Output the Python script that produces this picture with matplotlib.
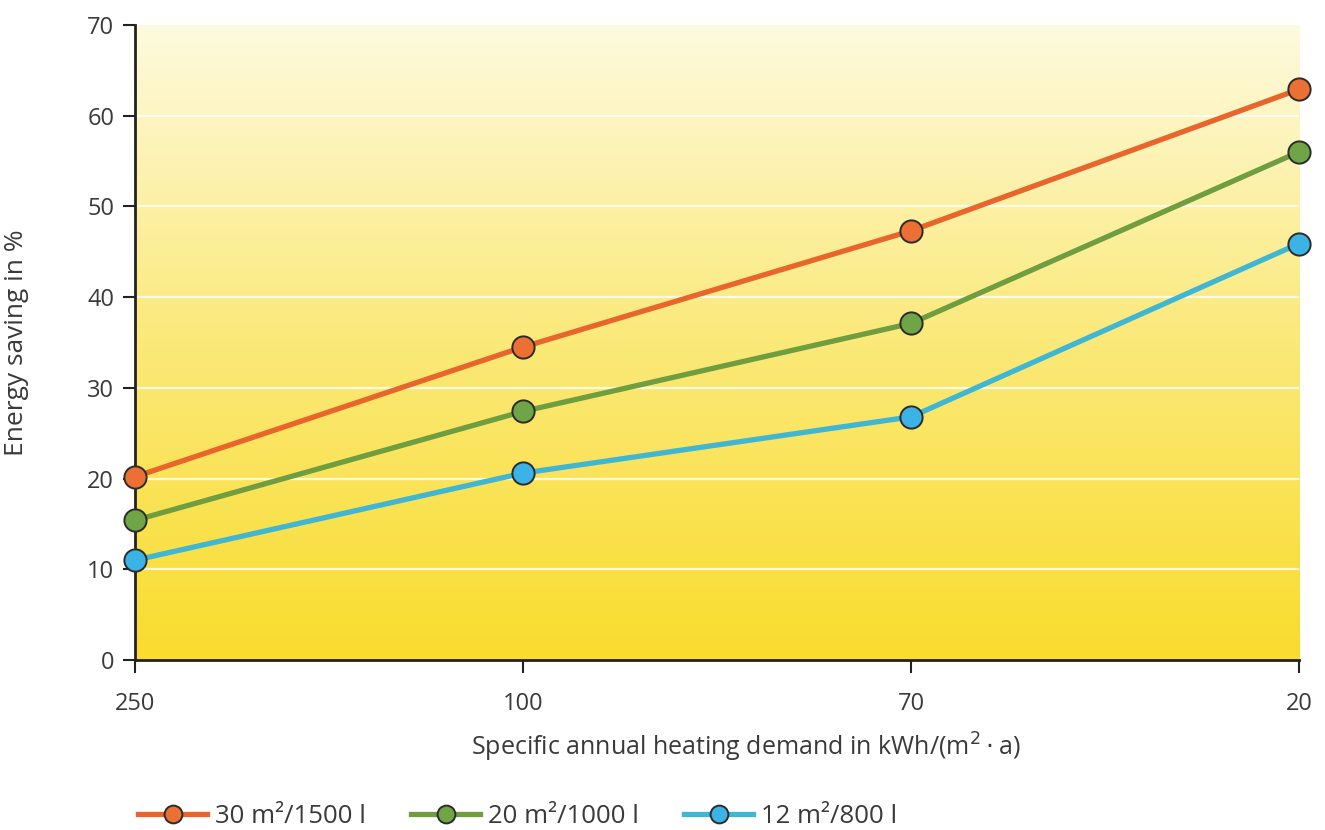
import numpy as np
import matplotlib
matplotlib.use('Agg')
import matplotlib.pyplot as plt
from matplotlib.colors import LinearSegmentedColormap

plt.rcParams['font.family'] = ['Open Sans', 'DejaVu Sans']

demand_labels = ['250', '100', '70', '20']
series_names = ['30 m²/1500 l', '20 m²/1000 l', '12 m²/800 l']
saving_30 = [20.2, 34.5, 47.3, 62.9]
saving_20 = [15.4, 27.4, 37.1, 56.0]
saving_12 = [11.0, 20.6, 26.8, 45.9]

line_colors = ['#e8652c', '#6e9e3f', '#3fb6d3']
marker_colors = ['#ec6f33', '#6fa447', '#3cb3e6']
text_color = '#3a3a3a'

fig = plt.figure(figsize=(13.25, 8.3), dpi=100)
ax = fig.add_axes([0.1019, 0.2048, 0.8785, 0.7652])

# yellow gradient background
cmap = LinearSegmentedColormap.from_list('bg', ['#f9dc2e', '#fbe979', '#fefadf'])
grad = np.linspace(0, 1, 256).reshape(-1, 1)
ax.imshow(grad, cmap=cmap, aspect='auto', origin='lower',
          extent=[0, 3, 0, 70], zorder=0)

for y in range(10, 70, 10):
    ax.axhline(y, color='white', lw=1.6, alpha=0.8, zorder=1)

x = np.arange(len(demand_labels))
for vals, lc, mc, name in zip([saving_30, saving_20, saving_12], line_colors,
                              marker_colors, series_names):
    ax.plot(x, vals, color=lc, lw=3.8, marker='o', ms=16, mfc=mc,
            mec='#2b2b2b', mew=1.4, label=name, zorder=3, clip_on=False)

ax.set_xlim(0, 3)
ax.set_ylim(0, 70)
ax.set_xticks(x)
ax.set_xticklabels(demand_labels)
ax.set_yticks(range(0, 71, 10))

for s in ['top', 'right']:
    ax.spines[s].set_visible(False)
for s in ['left', 'bottom']:
    ax.spines[s].set_color('#222222')
    ax.spines[s].set_linewidth(2)

ax.tick_params(axis='both', colors='#222222', width=1.5, length=9,
               labelsize=17, labelcolor=text_color)
ax.tick_params(axis='x', pad=14)
ax.tick_params(axis='y', pad=6)

ax.set_ylabel('Energy saving in %', fontsize=19, color=text_color)
ax.yaxis.set_label_coords(-0.091, 0.5)
ax.set_xlabel('Specific annual heating demand in kWh/(m$^2\\cdot$a)',
              fontsize=18, color=text_color)
ax.xaxis.set_label_coords(0.525, -0.112)

fig.legend(loc='center left', bbox_to_anchor=(138 / 1325, 0.016), ncol=3,
           frameon=False, fontsize=18.5, handlelength=2.7, handletextpad=0.3,
           columnspacing=1.75, markerscale=0.8, labelcolor=text_color,
           borderpad=0, borderaxespad=0)

fig.savefig('out.png', dpi=100, facecolor='white')
